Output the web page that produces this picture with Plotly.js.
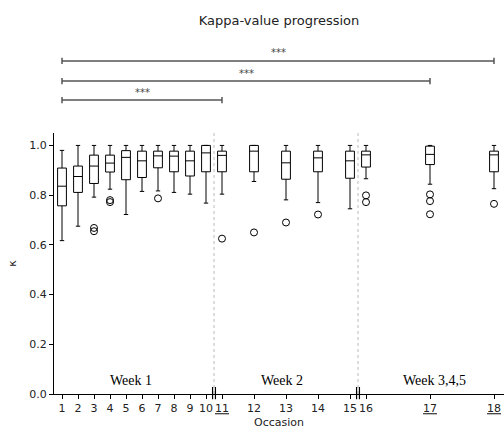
<!DOCTYPE html>
<html>
<head>
<meta charset="utf-8">
<script src="https://cdn.plot.ly/plotly-3.0.1.min.js"></script>
<style>html,body{margin:0;padding:0;background:#fff;}#chart{width:504px;height:430px;}</style>
</head>
<body>
<div id="chart"></div>
<script>
// ---- data ----
const occasions = ['1','2','3','4','5','6','7','8','9','10','11','12','13','14','15','16','17','18'];
const weekOf    = [1,1,1,1,1,1,1,1,1,1,2,2,2,2,2,3,3,3];
const underlined = ['11','17','18'];
const upperWhisker = [0.980,1.000,1.000,1.000,1.000,1.000,1.000,1.000,1.000,1.000,1.000,1.000,1.000,1.000,1.000,1.000,1.000,1.000];
const q3Values     = [0.909,0.917,0.961,0.961,0.979,0.977,0.977,0.977,0.977,1.000,0.977,1.000,0.977,0.977,0.977,0.977,0.997,0.977];
const medianValues = [0.836,0.875,0.917,0.929,0.952,0.938,0.958,0.957,0.938,0.970,0.960,0.977,0.930,0.950,0.938,0.962,0.964,0.962];
const q1Values     = [0.757,0.811,0.847,0.893,0.862,0.871,0.910,0.894,0.877,0.894,0.894,0.894,0.864,0.894,0.868,0.913,0.923,0.894];
const lowerWhisker = [0.617,0.675,0.792,0.824,0.722,0.815,0.817,0.811,0.804,0.768,0.804,0.855,0.781,0.770,0.745,0.866,0.844,0.826];
const outliers = [[],[],[0.668,0.655],[0.780,0.772],[],[],[0.787],[],[],[],[0.625],[0.650],[0.690],[0.722],[],[0.799,0.772],[0.803,0.776,0.723],[0.765]];
const weekLabels = ['Week 1','Week 2','Week 3,4,5'];
const comparisons = [['1','11'],['1','17'],['1','18']];
const significance = ['***','***','***'];

// ---- broken-axis positions: spacing grows per week block ----
const weekSpacing = {1:1, 2:2, 3:4};
const positions = [];
let p = 0;
occasions.forEach((o,i)=>{
  if (i===0) p = 1;
  else if (weekOf[i] !== weekOf[i-1]) p += 1;
  else p += weekSpacing[weekOf[i]];
  positions.push(p);
});
const posOf = o => positions[occasions.indexOf(o)];
const breaks = [];
for (let i=1;i<occasions.length;i++) if (weekOf[i]!==weekOf[i-1]) breaks.push((positions[i]+positions[i-1])/2);

const ticktext = occasions.map(o => underlined.includes(o) ? '<span style="text-decoration:underline">'+o+'</span>' : o);

const outX = [], outY = [];
outliers.forEach((arr,i)=>arr.forEach(v=>{outX.push(positions[i]); outY.push(v);}));

const traces = [
  {
    type:'box', x:positions, q1:q1Values, median:medianValues, q3:q3Values,
    lowerfence:lowerWhisker, upperfence:upperWhisker,
    width:0.55, whiskerwidth:0.5, boxpoints:false,
    line:{color:'#000', width:1}, fillcolor:'rgba(0,0,0,0)', hoverinfo:'skip'
  },
  {
    type:'scatter', mode:'markers', x:outX, y:outY,
    marker:{symbol:'circle-open', size:7, color:'#000', line:{width:1, color:'#000'}},
    hoverinfo:'skip'
  }
];

const shapes = [];
const annotations = [];
breaks.forEach(b=>{
  shapes.push({type:'line', xref:'x', yref:'y', x0:b, x1:b, y0:0, y1:1.05, line:{color:'#aaa', width:0.8, dash:'dot'}});
  [-0.09,0.09].forEach(d=>shapes.push({type:'line', xref:'x', yref:'paper', x0:b+d, x1:b+d, y0:-0.02, y1:0.027, line:{color:'#000', width:1.2}}));
});
const levels = [1.126, 1.199, 1.276];
comparisons.forEach((c,i)=>{
  const a = posOf(c[0]), b = posOf(c[1]), y = levels[i];
  shapes.push({type:'line', xref:'x', yref:'paper', x0:a, x1:b, y0:y, y1:y, line:{color:'#555', width:1.5}});
  shapes.push({type:'line', xref:'x', yref:'paper', x0:a, x1:a, y0:y-0.012, y1:y+0.012, line:{color:'#555', width:1.5}});
  shapes.push({type:'line', xref:'x', yref:'paper', x0:b, x1:b, y0:y-0.012, y1:y+0.012, line:{color:'#555', width:1.5}});
  annotations.push({xref:'x', yref:'paper', x:(a+b)/2, y:y, yshift:8, text:significance[i], showarrow:false, font:{family:'DejaVu Sans', size:10, color:'#444'}, yanchor:'middle'});
});
const weekLabelX = [5.3, 14.75, 24.3];
weekLabels.forEach((w,i)=>{
  annotations.push({xref:'x', yref:'y', x:weekLabelX[i], y:0.056, text:w, showarrow:false, font:{family:'Liberation Serif', size:14, color:'#000'}});
});

const layout = {
  width:504, height:430,
  margin:{l:54, r:0, t:133, b:36},
  paper_bgcolor:'#fff', plot_bgcolor:'#fff',
  showlegend:false,
  font:{family:'DejaVu Sans', color:'#222'},
  title:{text:'Kappa-value progression', font:{family:'DejaVu Sans', size:13, color:'#222'}, x:0.5, xref:'paper', y:0.953, yref:'container', yanchor:'middle'},
  xaxis:{
    range:[0.5, 28.625], tickmode:'array', tickvals:positions, ticktext:ticktext, tickangle:0,
    showline:true, linecolor:'#000', linewidth:1, ticks:'outside', ticklen:4, tickcolor:'#000',
    showgrid:false, zeroline:false, tickfont:{size:11, color:'#222'},
    title:{text:'Occasion', font:{size:11, color:'#222'}, standoff:4}
  },
  yaxis:{
    range:[0, 1.05], tickmode:'array', tickvals:[0,0.2,0.4,0.6,0.8,1.0], tickformat:'.1f',
    showline:true, linecolor:'#000', linewidth:1, ticks:'outside', ticklen:4, tickcolor:'#000',
    showgrid:false, zeroline:false, tickfont:{size:11, color:'#222'},
    title:{text:'κ', font:{size:11, color:'#222'}, standoff:10}
  },
  shapes:shapes, annotations:annotations
};
Plotly.newPlot('chart', traces, layout, {staticPlot:true});
</script>
</body>
</html>
